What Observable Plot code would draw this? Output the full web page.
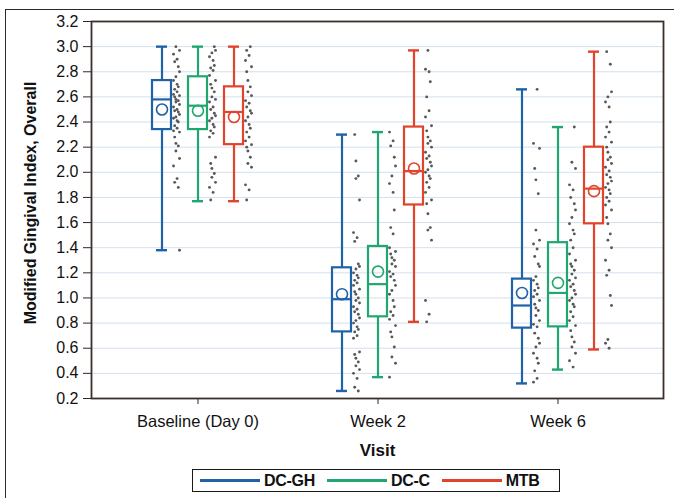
<!DOCTYPE html>
<html>
<head>
<meta charset="utf-8">
<script src="https://cdn.jsdelivr.net/npm/d3@7"></script>
<script src="https://cdn.jsdelivr.net/npm/@observablehq/plot@0.6"></script>
<style>
  html, body { margin: 0; padding: 0; background: #fff; overflow: hidden; }
  body { width: 674px; height: 498px; position: relative; font-family: "Liberation Sans", Arial, sans-serif; }
  #page-frame { position: absolute; left: 5px; top: 9px; width: 720px; height: 560px; border: 1.5px solid #2a2a2a; box-sizing: border-box; }
  #chart { position: absolute; left: 0; top: 0; }
  #legend {
    position: absolute; left: 192px; top: 469px; width: 368px; height: 23px;
    border: 1.5px solid #1a1a1a; box-sizing: border-box; background: #fff;
    display: flex; align-items: center; padding-left: 7px;
    font-weight: bold; font-size: 16px; color: #111;
  }
  #legend .swatch { width: 60px; height: 3px; margin-right: 4px; }
  #legend .label { margin-right: 12px; letter-spacing: -0.3px; }
</style>
</head>
<body>
<div id="page-frame"></div>
<div id="chart"></div>
<div id="legend"></div>
<script>
// Visits on the x axis and treatment groups within each visit
const visits = ["Baseline (Day 0)", "Week 2", "Week 6"];
const groups = ["DC-GH", "DC-C", "MTB"];
const groupColors = ["#1f62a7", "#20a66f", "#e2432b"];
const yTicks = [0.2, 0.4, 0.6, 0.8, 1.0, 1.2, 1.4, 1.6, 1.8, 2.0, 2.2, 2.4, 2.6, 2.8, 3.0, 3.2];

// Box-plot summaries, indexed [visit][group]
const whiskerLow  = [[1.38, 1.77, 1.77], [0.26, 0.37, 0.81], [0.32, 0.43, 0.59]];
const quartile1   = [[2.34, 2.34, 2.22], [0.73, 0.85, 1.74], [0.76, 0.77, 1.59]];
const median      = [[2.58, 2.53, 2.48], [0.99, 1.11, 2.01], [0.94, 1.04, 1.87]];
const quartile3   = [[2.73, 2.76, 2.68], [1.24, 1.41, 2.36], [1.15, 1.44, 2.20]];
const whiskerHigh = [[3.00, 3.00, 3.00], [2.30, 2.32, 2.97], [2.66, 2.36, 2.96]];
const mean        = [[2.50, 2.49, 2.44], [1.03, 1.21, 2.03], [1.04, 1.12, 1.85]];

// Individual subject scores
const baselineDCGH = [3.00, 2.97, 2.94, 2.90, 2.88, 2.84, 2.80, 2.76, 2.73, 2.70, 2.68, 2.66, 2.64, 2.62, 2.61, 2.60, 2.58, 2.57, 2.56, 2.54, 2.52, 2.50, 2.49, 2.48, 2.46, 2.44, 2.43, 2.41, 2.40, 2.37, 2.35, 2.33, 2.32, 2.28, 2.23, 2.21, 2.17, 2.11, 2.05, 1.95, 1.92, 1.88, 1.38];
const baselineDCC  = [3.00, 2.97, 2.95, 2.92, 2.89, 2.85, 2.83, 2.81, 2.77, 2.73, 2.70, 2.67, 2.64, 2.60, 2.58, 2.56, 2.52, 2.50, 2.47, 2.45, 2.43, 2.41, 2.38, 2.36, 2.33, 2.31, 2.28, 2.12, 2.07, 2.03, 1.99, 1.96, 1.92, 1.88, 1.84, 1.78];
const baselineMTB  = [3.00, 2.97, 2.93, 2.89, 2.84, 2.80, 2.73, 2.68, 2.64, 2.61, 2.57, 2.55, 2.52, 2.49, 2.47, 2.44, 2.41, 2.38, 2.35, 2.32, 2.28, 2.25, 2.22, 2.20, 2.17, 2.12, 2.07, 2.04, 1.90, 1.86, 1.78];
const week2DCGH = [2.30, 2.09, 1.97, 1.95, 1.78, 1.52, 1.48, 1.45, 1.27, 1.25, 1.23, 1.20, 1.18, 1.16, 1.14, 1.12, 1.10, 1.07, 1.05, 1.03, 1.00, 0.98, 0.96, 0.93, 0.91, 0.89, 0.87, 0.84, 0.82, 0.80, 0.77, 0.75, 0.73, 0.70, 0.68, 0.57, 0.55, 0.52, 0.49, 0.46, 0.43, 0.40, 0.36, 0.29, 0.26];
const week2DCC  = [2.32, 2.25, 2.21, 2.12, 2.05, 1.97, 1.91, 1.84, 1.70, 1.56, 1.51, 1.40, 1.37, 1.35, 1.32, 1.30, 1.27, 1.25, 1.21, 1.19, 1.17, 1.14, 1.10, 1.06, 1.03, 0.98, 0.93, 0.89, 0.86, 0.83, 0.78, 0.73, 0.69, 0.61, 0.53, 0.48, 0.37];
const week2MTB  = [2.97, 2.82, 2.80, 2.72, 2.60, 2.49, 2.44, 2.37, 2.33, 2.28, 2.25, 2.23, 2.20, 2.16, 2.13, 2.11, 2.08, 2.05, 2.02, 2.00, 1.97, 1.95, 1.92, 1.88, 1.84, 1.78, 1.75, 1.67, 1.56, 1.54, 1.46, 0.98, 0.87, 0.81];
const week6DCGH = [2.66, 2.23, 2.19, 2.03, 1.94, 1.83, 1.54, 1.46, 1.43, 1.39, 1.33, 1.27, 1.25, 1.17, 1.14, 1.11, 1.08, 1.06, 1.03, 1.01, 0.98, 0.95, 0.92, 0.90, 0.86, 0.82, 0.79, 0.77, 0.72, 0.68, 0.64, 0.61, 0.56, 0.52, 0.48, 0.42, 0.36, 0.33];
const week6DCC  = [2.36, 2.08, 2.03, 1.90, 1.86, 1.80, 1.75, 1.70, 1.64, 1.59, 1.54, 1.51, 1.46, 1.40, 1.35, 1.30, 1.27, 1.25, 1.22, 1.19, 1.16, 1.14, 1.11, 1.09, 1.06, 1.03, 1.00, 0.98, 0.95, 0.93, 0.89, 0.85, 0.82, 0.78, 0.74, 0.69, 0.65, 0.61, 0.56, 0.50, 0.45];
const week6MTB  = [2.96, 2.86, 2.64, 2.60, 2.56, 2.52, 2.40, 2.36, 2.32, 2.28, 2.24, 2.20, 2.16, 2.12, 2.10, 2.07, 2.04, 2.01, 1.98, 1.96, 1.93, 1.91, 1.88, 1.86, 1.83, 1.80, 1.77, 1.74, 1.70, 1.64, 1.59, 1.51, 1.46, 1.40, 1.30, 1.22, 1.18, 1.02, 0.94, 0.67, 0.64, 0.60];

const scores = [
  [baselineDCGH, baselineDCC, baselineMTB],
  [week2DCGH, week2DCC, week2MTB],
  [week6DCGH, week6DCC, week6MTB]
];

// One band per group; two empty bands separate consecutive visits
const slotKey = (v, g) => `${v}|${g}`;
const slots = visits.flatMap((v, i) => {
  const keys = groups.map(g => slotKey(v, g));
  return i < visits.length - 1 ? keys.concat([`gap${i}a`, `gap${i}b`]) : keys;
});
const visitTicks = visits.map(v => slotKey(v, groups[1]));

const boxes = visits.flatMap((v, i) => groups.map((g, j) => ({
  key: slotKey(v, g), group: g,
  low: whiskerLow[i][j], q1: quartile1[i][j], med: median[i][j],
  q3: quartile3[i][j], high: whiskerHigh[i][j], mean: mean[i][j]
})));

// Scatter the raw scores over a few narrow lanes to the right of each box
const lanePattern = [2, 5, 0, 3, 1, 4, 5, 2, 0, 3, 4, 1, 3, 0, 5, 1, 2, 4];
const laneOffsets = [11.5, 12.7, 13.9, 15.1, 16.3, 17.5];
const points = visits.flatMap((v, i) => groups.flatMap((g, j) =>
  scores[i][j].map((s, k) => ({key: slotKey(v, g), value: s, lane: lanePattern[(k + 5 * (3 * i + j)) % lanePattern.length]}))
));

const chart = Plot.plot({
  width: 674,
  height: 462,
  marginLeft: 91,
  marginRight: 11,
  marginTop: 21,
  marginBottom: 64,
  style: {fontFamily: "'Liberation Sans', Arial, sans-serif", fontSize: "16px", color: "#111", background: "transparent"},
  x: {type: "band", domain: slots, paddingInner: 0.48, paddingOuter: 1.475},
  y: {domain: [0.2, 3.2], nice: false},
  color: {domain: groups, range: groupColors},
  marks: [
    Plot.gridY({ticks: yTicks, stroke: "#d3e0ec", strokeOpacity: 1, strokeWidth: 1}),
    Plot.axisY({ticks: yTicks, tickFormat: d3.format(".1f"), tickSize: 8, tickPadding: 5, fontSize: 16, label: null, stroke: "#2a2a2a"}),
    Plot.axisX({ticks: visitTicks, tickFormat: k => k.split("|")[0], tickSize: 6, tickPadding: 11, fontSize: 16.5, label: null, stroke: "#2a2a2a"}),
    // individual scores beside each box
    ...laneOffsets.map((dx, l) => Plot.dot(points.filter(p => p.lane === l), {
      x: "key", y: "value", r: 1.45, fill: "#585858", stroke: "none", dx
    })),
    // whiskers and caps
    Plot.ruleX(boxes, {x: "key", y1: "low", y2: "q1", stroke: "group", strokeWidth: 2.2}),
    Plot.ruleX(boxes, {x: "key", y1: "q3", y2: "high", stroke: "group", strokeWidth: 2.2}),
    Plot.tickY(boxes, {x: "key", y: "low", stroke: "group", strokeWidth: 2.4, insetLeft: 4, insetRight: 4}),
    Plot.tickY(boxes, {x: "key", y: "high", stroke: "group", strokeWidth: 2.4, insetLeft: 4, insetRight: 4}),
    // interquartile box, median and mean
    Plot.barY(boxes, {x: "key", y1: "q1", y2: "q3", fill: "none", stroke: "group", strokeWidth: 2.2}),
    Plot.tickY(boxes, {x: "key", y: "med", stroke: "group", strokeWidth: 2.2}),
    Plot.dot(boxes, {x: "key", y: "mean", r: 5.5, stroke: "group", strokeWidth: 1.6, fill: "none"}),
    Plot.frame({stroke: "#3a302c", strokeWidth: 1.8}),
    Plot.text(["Modified Gingival Index, Overall"], {
      frameAnchor: "left", dx: -61, dy: -7, rotate: -90,
      textAnchor: "middle", lineAnchor: "middle", fontWeight: "bold", fontSize: 16, fill: "#111"
    }),
    Plot.text(["Visit"], {
      frameAnchor: "bottom", dy: 52, textAnchor: "middle", lineAnchor: "middle",
      fontWeight: "bold", fontSize: 17, fill: "#111"
    })
  ]
});
document.getElementById("chart").append(chart);

// Legend for the three groups
const legend = document.getElementById("legend");
groups.forEach((g, i) => {
  const sw = document.createElement("span");
  sw.className = "swatch";
  sw.style.background = groupColors[i];
  const lb = document.createElement("span");
  lb.className = "label";
  lb.textContent = g;
  legend.append(sw, lb);
});
</script>
</body>
</html>
